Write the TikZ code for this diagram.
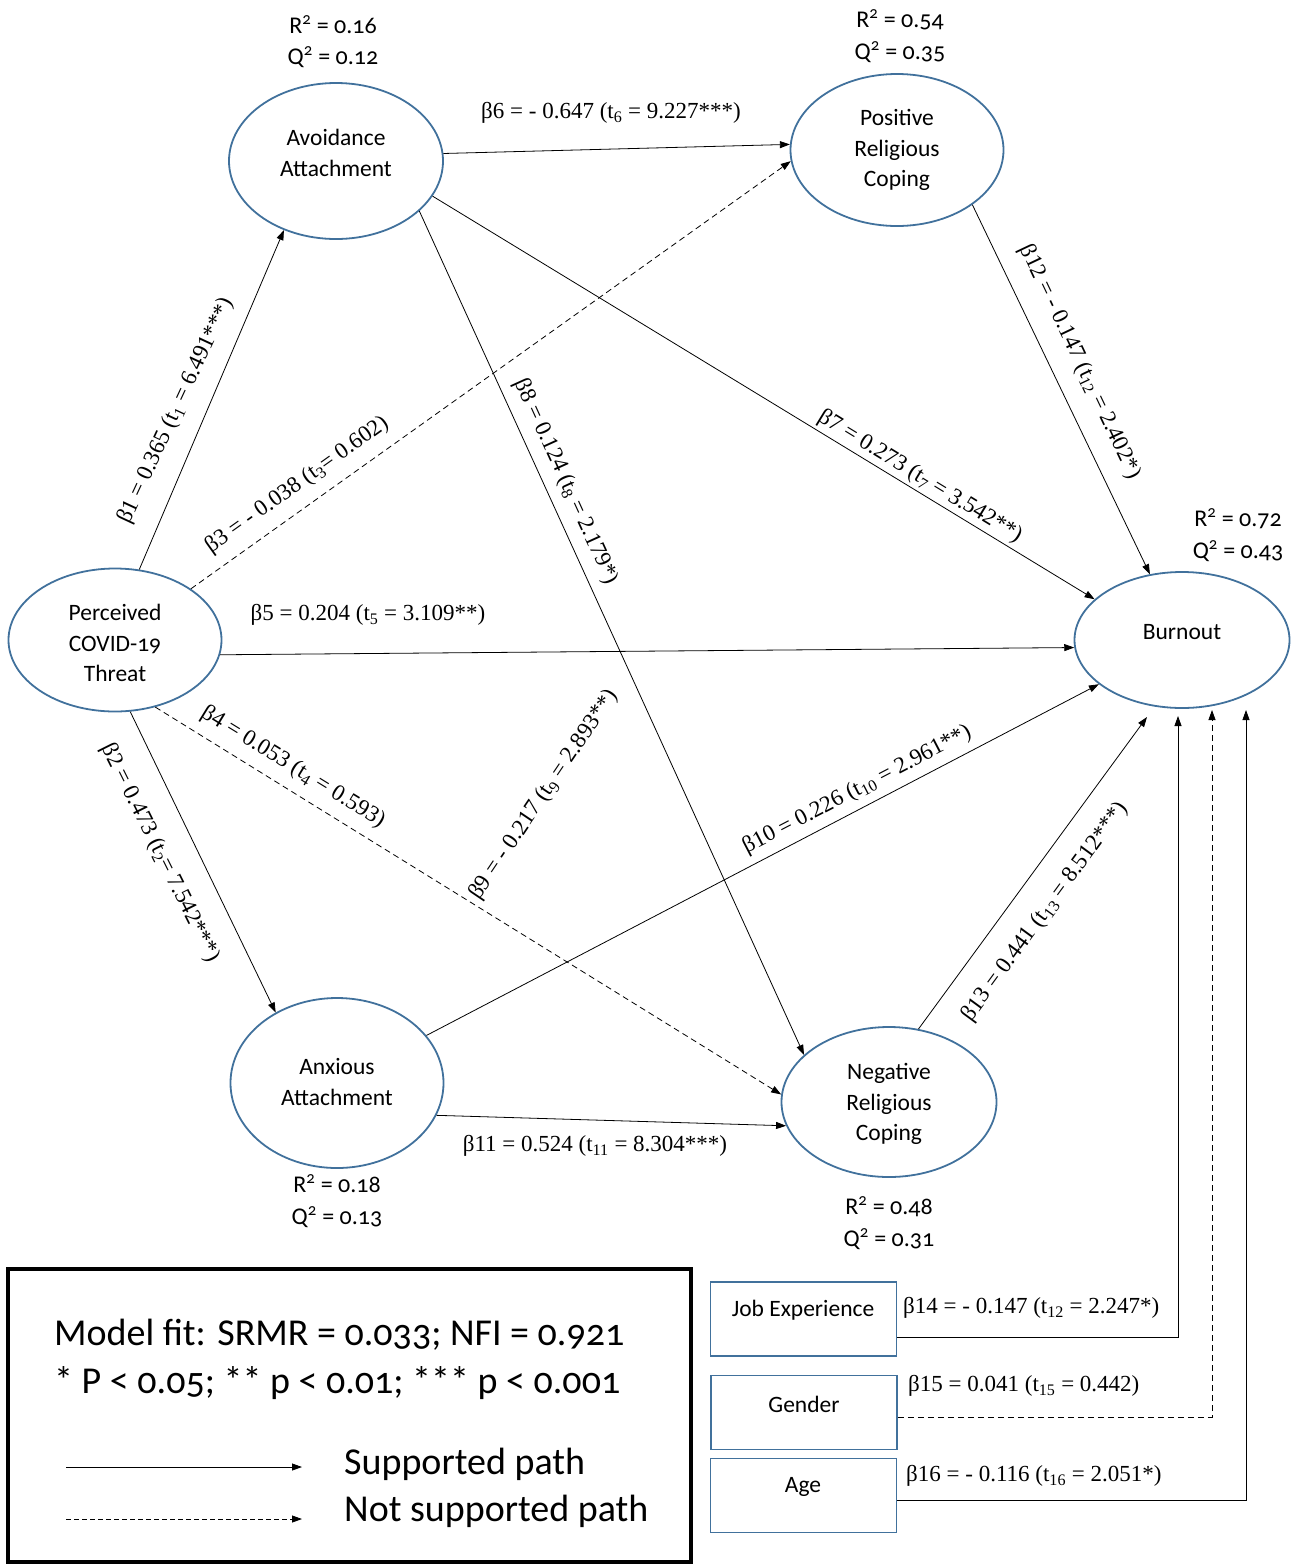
\documentclass[tikz,border=0pt]{standalone}
\usepackage{fontspec}
\setmainfont{Carlito}[Numbers=OldStyle]
\newfontfamily\seriffont{Liberation Serif}
\usetikzlibrary{arrows.meta,shapes.geometric}
\definecolor{ellblue}{HTML}{41719C}
\newcommand\tsb[1]{\textsubscript{#1}}
\newcommand\sqr{\textsuperscript{2}}
\begin{document}
\begin{tikzpicture}[x=1pt,y=-1pt,
  latent/.style={ellipse, draw=ellblue, line width=1.8pt, inner sep=0pt},
  ltext/.style={font=\fontsize{23.5}{30.5}\selectfont, align=center, inner sep=0pt},
  rq/.style={font=\fontsize{24}{31.5}\selectfont, align=center, inner sep=0pt},
  plabel/.style={font=\seriffont\fontsize{23}{25}\selectfont, inner sep=0pt},
  path/.style={draw=black, line width=0.8pt, -{Triangle[length=10pt,width=7pt]}},
  nspath/.style={path, dash pattern=on 6pt off 4pt},
  cbox/.style={draw=ellblue, line width=1.8pt, minimum width=186pt, minimum height=74pt, inner sep=0pt},
  legtext/.style={font=\fontsize{38}{44}\selectfont, anchor=west, inner sep=0pt}
]
\path[use as bounding box] (0,0) rectangle (1296,1564);

% latent variables
\node[latent, minimum width=214pt, minimum height=156pt] (av) at (336,161) {};
\node[ltext] (avT) at (336,153) {Avoidance\\Attachment};
\node[latent, minimum width=213pt, minimum height=152pt] (pr) at (897,150) {};
\node[ltext] (prT) at (897,150) {Positive\\Religious\\Coping};
\node[latent, minimum width=213pt, minimum height=143pt] (pc) at (115,640) {};
\node[ltext] (pcT) at (115,643) {Perceived\\COVID-19\\Threat};
\node[latent, minimum width=215pt, minimum height=136pt] (bo) at (1182,640) {};
\node[ltext] (boT) at (1182,632) {Burnout};
\node[latent, minimum width=213pt, minimum height=170pt] (ax) at (337,1083) {};
\node[ltext] (axT) at (337,1082) {Anxious\\Attachment};
\node[latent, minimum width=215pt, minimum height=150pt] (nr) at (889,1102) {};
\node[ltext] (nrT) at (889,1104) {Negative\\Religious\\Coping};

% R2 / Q2
\node[rq] (rqAv) at (333,41.5) {R\sqr{} = 0.16\\Q\sqr{} = 0.12};
\node[rq] (rqPr) at (900,36) {R\sqr{} = 0.54\\Q\sqr{} = 0.35};
\node[rq] (rqBo) at (1238,535) {R\sqr{} = 0.72\\Q\sqr{} = 0.43};
\node[rq] (rqAx) at (337,1201) {R\sqr{} = 0.18\\Q\sqr{} = 0.13};
\node[rq] (rqNr) at (889,1223) {R\sqr{} = 0.48\\Q\sqr{} = 0.31};

% paths
\draw[path] (pc.71) -- (av.233);
\draw[path] (pc.-78) -- (ax.131);
\draw[nspath] (pc.34) -- (pr.186.6);
\draw[nspath] (pc.-59.5) -- (nr.176);
\draw[path] (pc.-8.5) -- (bo.184.4);
\draw[path] (av.4.3) -- (pr.177.8);
\draw[path] (av.-20.1) -- (bo.155.4);
\draw[path] (av.-31.5) -- (nr.151.5);
\draw[path] (pr.-36.2) -- (bo.116.6);
\draw[path] (ax.28) -- (bo.208.9);
\draw[path] (ax.-18.8) -- (nr.193.3);
\coordinate (b13) at (1147,717);
\draw[path] (nr.68) -- (b13);

% path labels
\node[plabel, rotate=65] (l1) at (176,411) {β1 = 0.365 (t\tsb{1} = 6.491***)};
\node[plabel, rotate=-63.5] (l2) at (160,853) {β2 = 0.473 (t\tsb{2}= 7.542***)};
\node[plabel, rotate=35.5] (l3) at (297,485) {β3 = - 0.038 (t\tsb{3}= 0.602)};
\node[plabel, rotate=-31.6] (l4) at (293,767) {β4 = 0.053 (t\tsb{4} = 0.593)};
\node[plabel] (l5) at (368,615) {β5 = 0.204 (t\tsb{5} = 3.109**)};
\node[plabel] (l6) at (611,113) {β6 = - 0.647 (t\tsb{6} = 9.227***)};
\node[plabel, rotate=-31.4] (l7) at (920,477) {β7 = 0.273 (t\tsb{7} = 3.542**)};
\node[plabel, rotate=-65.5] (l8) at (566,482) {β8 = 0.124 (t\tsb{8} = 2.179*)};
\node[plabel, rotate=56] (l9) at (544,795) {β9 = - 0.217 (t\tsb{9} = 2.893**)};
\node[plabel, rotate=27.5] (l10) at (857,790) {β10 = 0.226 (t\tsb{10} = 2.961**)};
\node[plabel] (l11) at (595,1146) {β11 = 0.524 (t\tsb{11} = 8.304***)};
\node[plabel, rotate=-64.6] (l12) at (1080,362) {β12 = - 0.147 (t\tsb{12} = 2.402*)};
\node[plabel, rotate=53.8] (l13) at (1045,912) {β13 = 0.441 (t\tsb{13} = 8.512***)};

% control variables
\node[cbox] (job) at (803.5,1319) {};
\node[ltext] (jobT) at (803,1310) {Job Experience};
\node[cbox] (gen) at (804,1412.5) {};
\node[ltext] (genT) at (804,1404) {Gender};
\node[cbox] (age) at (803.5,1495.5) {};
\node[ltext] (ageT) at (803,1487) {Age};
\coordinate (bJ) at (1178,716);
\coordinate (bG) at (1212,710);
\coordinate (bA) at (1246,710);
\draw[path] ([yshift=-18pt]job.east) -| (bJ);
\draw[nspath] ([yshift=-4.5pt]gen.east) -| (bG);
\draw[path] ([yshift=-4.5pt]age.east) -| (bA);
\node[plabel, anchor=west] (l14) at (903,1308) {β14 = - 0.147 (t\tsb{12} = 2.247*)};
\node[plabel, anchor=west] (l15) at (908,1386) {β15 = 0.041 (t\tsb{15} = 0.442)};
\node[plabel, anchor=west] (l16) at (906,1476) {β16 = - 0.116 (t\tsb{16} = 2.051*)};

% legend
\node[draw=black, line width=3.2pt, minimum width=683pt, minimum height=293pt, inner sep=0pt] (leg) at (349.5,1415.5) {};
\node[legtext] (lg1) at (54,1335) {Model fit: SRMR = 0.033; NFI = 0.921};
\node[legtext] (lg2) at (54,1383) {* P < 0.05; ** p < 0.01; *** p < 0.001};
\coordinate (s1) at (66,1467);
\coordinate (s2) at (302,1467);
\coordinate (n1) at (66,1519);
\coordinate (n2) at (302,1519);
\draw[path] (s1) -- (s2);
\draw[nspath, dash pattern=on 5pt off 3pt] (n1) -- (n2);
\node[legtext] (lg3) at (344,1464) {Supported path};
\node[legtext] (lg4) at (344,1511) {Not supported path};
\end{tikzpicture}
\end{document}
